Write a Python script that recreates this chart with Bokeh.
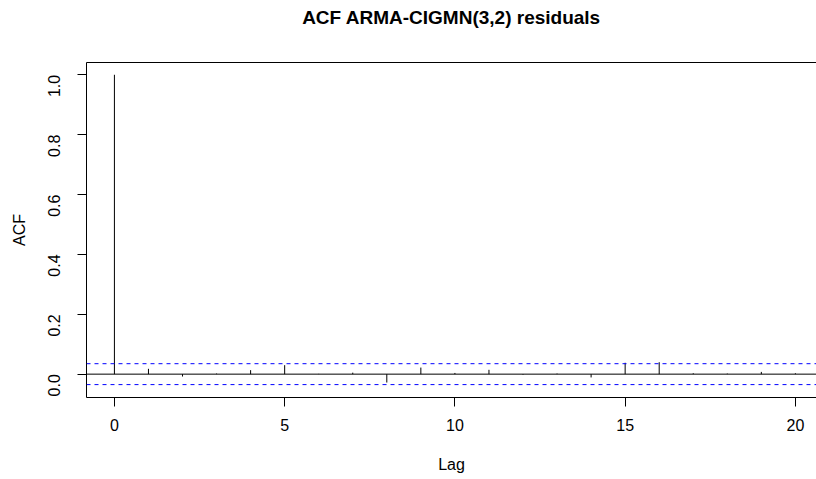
import math
from bokeh.plotting import figure
from bokeh.models import (Range1d, FixedTicker, PrintfTickFormatter, Span, ColumnDataSource,
                          Title, LinearAxis)
from bokeh.embed import file_html
from bokeh.resources import INLINE

lags = list(range(0, 21))
acf = [1.0, 0.0178, -0.008, 0.002, 0.0134, 0.030, 0.001, 0.005, -0.028, 0.022,
       0.004, 0.0145, -0.002, 0.002, -0.011, 0.038, 0.040, 0.003, 0.002, 0.0075, 0.003]
conf = 0.0349
x_ticks = [0, 5, 10, 15, 20]
y_ticks = [0.0, 0.2, 0.4, 0.6, 0.8, 1.0]

FONT = "Liberation Sans"

p = figure(width=816, height=479, output_backend="svg", toolbar_location=None,
           x_range=Range1d(-0.82, 20.62), y_range=Range1d(-0.078, 1.041),
           min_border_left=86, min_border_right=0, min_border_top=62, min_border_bottom=82)
p.grid.visible = False
p.outline_line_color = None
p.background_fill_color = "white"

xax = p.below[0]
yax = p.left[0]

# top border of the box (the box is cut at the right edge of the picture)
top_axis = LinearAxis(ticker=FixedTicker(ticks=[]), axis_line_color="black",
                      major_tick_line_color=None, minor_tick_line_color=None,
                      major_tick_out=0, major_tick_in=0, major_label_standoff=0,
                      major_label_text_font_size="0px")
p.add_layout(top_axis, "above")

p.title.text = "ACF ARMA-CIGMN(3,2) residuals"
p.title.align = "center"
p.title.text_font = FONT
p.title.text_font_size = "19px"
p.title.text_font_style = "bold"
p.title.text_color = "black"
p.title.standoff = 0
# empty spacer between the frame and the title
p.add_layout(Title(text=" ", text_font_size="10px", standoff=22), "above")

src = ColumnDataSource(dict(lag=lags, acf=acf, zero=[0] * len(lags)))
p.segment(x0="lag", y0="zero", x1="lag", y1="acf", source=src, line_color="black", line_width=1)

p.add_layout(Span(location=0, dimension="width", line_color="black", line_width=1))
p.add_layout(Span(location=conf, dimension="width", line_color="#0000ff", line_width=1, line_dash="4 4"))
p.add_layout(Span(location=-conf, dimension="width", line_color="#0000ff", line_width=1, line_dash="4 4"))

for ax in (xax, yax):
    ax.axis_line_color = "black"
    ax.major_tick_in = 0
    ax.major_tick_out = 9
    ax.minor_tick_line_color = None
    ax.major_label_text_font = FONT
    ax.major_label_text_font_size = "16px"
    ax.major_label_text_color = "black"
    ax.axis_label_text_font = FONT
    ax.axis_label_text_font_size = "16px"
    ax.axis_label_text_font_style = "normal"
    ax.axis_label_text_color = "black"
    ax.major_tick_line_color = "black"

xax.ticker = FixedTicker(ticks=x_ticks)
xax.axis_label = "Lag"
xax.major_label_standoff = 12
xax.axis_label_standoff = 22

yax.ticker = FixedTicker(ticks=y_ticks)
yax.formatter = PrintfTickFormatter(format="%.1f")
yax.major_label_orientation = math.pi / 2
yax.axis_label = "ACF"
yax.major_label_standoff = 23
yax.axis_label_standoff = 12

open("out.html", "w").write(file_html(p, INLINE))
